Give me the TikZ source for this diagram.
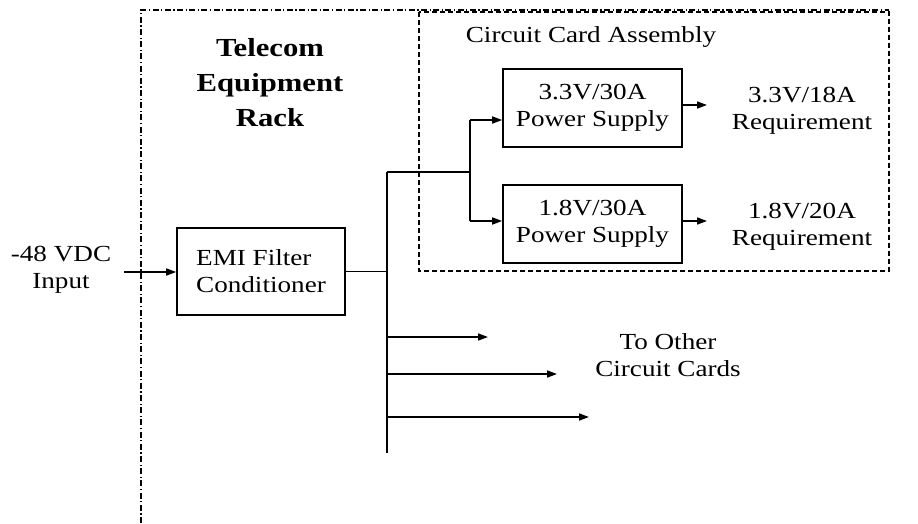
\documentclass[tikz,border=0pt]{standalone}
\usepackage{fontspec}
\setmainfont{Liberation Serif}[FakeStretch=1.18]
\usetikzlibrary{arrows.meta, positioning}

\begin{document}
\begin{tikzpicture}[x=1pt, y=-1pt, font=\fontsize{23}{27}\selectfont,
	caja/.style={draw, line width=1.6pt, inner sep=0pt, align=center},
	flecha/.style={line width=1.6pt, -{Triangle[length=10pt, width=7pt]}},
	linea/.style={line width=1.6pt}]
	\useasboundingbox (0,0) rectangle (918,523);
	\draw[line width=1.3pt, dash pattern=on 6pt off 2.5pt on 1.2pt off 2.5pt] (141,523) -- (141,10) -- (889,10);
	\draw[line width=1.3pt, dash pattern=on 5pt off 3pt] (419,12) rectangle (889,271);
	\node[font=\fontsize{26}{35}\selectfont\bfseries, align=center] (rack) at (270,83) {Telecom\\Equipment\\Rack};
	\node (cca) at (591,37) {Circuit Card Assembly};
	% blocks
	\node[align=center] (vin) at (61,270) {-48 VDC\\Input};
	\node[caja, align=left, minimum width=168pt, minimum height=87pt] (emi) at (261,271.5) {EMI Filter\\Conditioner};
	\node[caja, minimum width=179pt, minimum height=78pt] (ps1) at (592.5,108) {3.3V/30A\\Power Supply};
	\node[caja, minimum width=179pt, minimum height=78pt] (ps2) at (592.5,224) {1.8V/30A\\Power Supply};
	\node[align=center] (req1) at (802,111) {3.3V/18A\\Requirement};
	\node[align=center] (req2) at (802,227) {1.8V/20A\\Requirement};
	\node[align=center] (otras) at (668,355) {To Other\\Circuit Cards};
	% wiring
	\coordinate (vin-e) at (124,272);
	\draw[flecha] (vin-e) -- (vin-e -| emi.west);
	\coordinate (bt) at (387,172);
	\coordinate (bb) at (387,453);
	\draw[linea] (bt) -- (bb);
	\draw[linea] (emi.east) -- (emi.east -| bt);
	\coordinate (sp) at (470,172);
	\coordinate (s1) at (470,120);
	\coordinate (s2) at (470,221);
	\draw[linea] (bt) -- (sp);
	\draw[linea] (s1) -- (s2);
	\draw[flecha] (s1) -- (s1 -| ps1.west);
	\draw[flecha] (s2) -- (s2 -| ps2.west);
	\coordinate (o1) at (707,105);
	\coordinate (o2) at (707,221);
	\draw[flecha] (o1 -| ps1.east) -- (o1);
	\draw[flecha] (o2 -| ps2.east) -- (o2);
	\foreach \y/\xe [count=\i] in {337/488, 374/557, 417/589}{
		\coordinate (t\i) at (\xe,\y);
		\draw[flecha] (t\i -| bt) -- (t\i);
	}
\end{tikzpicture}
\end{document}
